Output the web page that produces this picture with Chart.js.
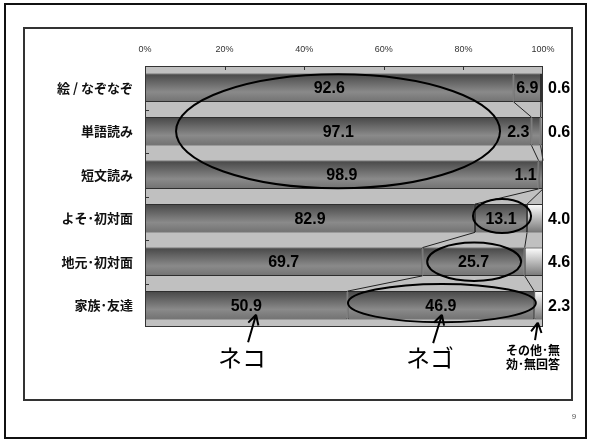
<!DOCTYPE html>
<html>
<head>
<meta charset="utf-8">
<script src="https://cdn.jsdelivr.net/npm/chart.js@4.4.1/dist/chart.umd.min.js"></script>
<style>
  body { margin: 0; background: #fff; }
  canvas { display: block; }
</style>
</head>
<body>
<canvas id="chart" width="591" height="443"></canvas>
<script>
// rows, top to bottom
const categories = ['絵 / なぞなぞ', '単語読み', '短文読み', 'よそ･初対面', '地元･初対面', '家族･友達'];
// ネコ / ネゴ / その他･無効･無回答 (%)
const neko = [92.6, 97.1, 98.9, 82.9, 69.7, 50.9];
const nego = [6.9, 2.3, 1.1, 13.1, 25.7, 46.9];
const other = [0.6, 0.6, 0.0, 4.0, 4.6, 2.3];
const xTicks = [0, 20, 40, 60, 80, 100];

// hand drawn marks on the slide, in data units (x: %, y: row index)
const circles = [
    { x: 48.5, y: 1.0, rx: 40.7, ry: 1.31 },
    { x: 89.7, y: 2.95, rx: 7.3, ry: 0.39 },
    { x: 82.7, y: 4.0, rx: 11.8, ry: 0.44 },
    { x: 74.6, y: 4.95, rx: 23.6, ry: 0.44 }
];
const arrows = [
    { x0: 25.9, y0: 5.85, x1: 27.9, y1: 5.22 },
    { x0: 72.4, y0: 5.87, x1: 74.6, y1: 5.22 },
    { x0: 98.0, y0: 5.80, x1: 98.7, y1: 5.40 }
];
const notes = [
    { text: 'ネコ', x: 24.4, y: 6.22, font: '24px "Noto Sans CJK JP"' },
    { text: 'ネゴ', x: 71.6, y: 6.22, font: '24px "Noto Sans CJK JP"' },
    { text: 'その他･無', x: 97.5, y: 6.03, font: 'bold 12px "Noto Sans CJK JP"' },
    { text: '効･無回答', x: 97.5, y: 6.36, font: 'bold 12px "Noto Sans CJK JP"' }
];

const BAR_PCT = 0.65;
const NUM_FONT = 'bold 16px "Liberation Sans", Arial, sans-serif';

// vertical shading of each bar
function shade(stops) {
    return function (c) {
        const chart = c.chart;
        const ys = chart.scales.y;
        if (!ys || !chart.chartArea) return stops[1][1];
        const yc = ys.getPixelForValue(c.dataIndex);
        const h = (ys.height / categories.length) * BAR_PCT / 2;
        const g = chart.ctx.createLinearGradient(0, yc - h, 0, yc + h);
        stops.forEach(s => g.addColorStop(s[0], s[1]));
        return g;
    };
}
const darkBar = shade([[0, '#474747'], [0.65, '#8a8a8a'], [1, '#727272']]);
const lightBar = shade([[0, '#ffffff'], [1, '#777777']]);

const slide = {
    id: 'slide',
    beforeDraw(chart) {
        const ctx = chart.ctx, a = chart.chartArea;
        ctx.save();
        ctx.fillStyle = '#fff';
        ctx.fillRect(0, 0, chart.width, chart.height);
        ctx.strokeStyle = '#111';
        ctx.lineWidth = 2;
        ctx.strokeRect(5, 4, 581, 434);
        ctx.strokeStyle = '#333';
        ctx.strokeRect(24, 28, 548, 372);
        ctx.fillStyle = '#c0c0c0';
        ctx.fillRect(a.left, a.top, a.right - a.left, a.bottom - a.top);
        ctx.restore();
    },
    afterDatasetsDraw(chart) {
        const ctx = chart.ctx, a = chart.chartArea;
        const xs = chart.scales.x, ys = chart.scales.y;
        const half = (ys.height / categories.length) * BAR_PCT / 2;
        const series = [neko, nego, other];
        ctx.save();

        // series lines between the bars
        ctx.strokeStyle = '#222';
        ctx.lineWidth = 1;
        for (let r = 0; r < categories.length - 1; r++) {
            let c0 = 0, c1 = 0;
            for (let s = 0; s < 2; s++) {
                c0 += series[s][r];
                c1 += series[s][r + 1];
                ctx.beginPath();
                ctx.moveTo(xs.getPixelForValue(Math.min(c0, 100)), ys.getPixelForValue(r) + half);
                ctx.lineTo(xs.getPixelForValue(Math.min(c1, 100)), ys.getPixelForValue(r + 1) - half);
                ctx.stroke();
            }
        }

        // plot frame and inner tick marks
        ctx.strokeStyle = '#333';
        ctx.strokeRect(a.left + 0.5, a.top + 0.5, a.right - a.left - 1, a.bottom - a.top - 1);
        xTicks.slice(1, -1).forEach(v => {
            const px = Math.round(xs.getPixelForValue(v)) + 0.5;
            ctx.beginPath();
            ctx.moveTo(px, a.top);
            ctx.lineTo(px, a.top + 4);
            ctx.stroke();
        });
        for (let r = 0; r < categories.length - 1; r++) {
            const py = Math.round(ys.getPixelForValue(r + 0.5)) + 0.5;
            ctx.beginPath();
            ctx.moveTo(a.left, py);
            ctx.lineTo(a.left + 4, py);
            ctx.stroke();
        }

        // value labels
        ctx.fillStyle = '#000';
        ctx.font = NUM_FONT;
        ctx.textBaseline = 'middle';
        categories.forEach((cat, r) => {
            const yc = ys.getPixelForValue(r) + 1;
            const p0 = xs.getPixelForValue(0);
            const p1 = xs.getPixelForValue(neko[r]);
            const p2 = xs.getPixelForValue(Math.min(neko[r] + nego[r], 100));
            ctx.textAlign = 'center';
            ctx.fillText(neko[r].toFixed(1), (p0 + p1) / 2, yc);
            const t = nego[r].toFixed(1);
            if (p2 - p1 >= ctx.measureText(t).width + 2) {
                ctx.textAlign = 'center';
                ctx.fillText(t, (p1 + p2) / 2, yc);
            } else {
                ctx.textAlign = 'right';
                ctx.fillText(t, p1 - 2, yc);
            }
            if (other[r] > 0) {
                ctx.textAlign = 'left';
                ctx.fillText(other[r].toFixed(1), a.right + 5, yc);
            }
        });

        // circles
        ctx.strokeStyle = '#000';
        ctx.lineWidth = 2;
        const kx = (xs.getPixelForValue(100) - xs.getPixelForValue(0)) / 100;
        const ky = ys.getPixelForValue(1) - ys.getPixelForValue(0);
        circles.forEach(e => {
            ctx.beginPath();
            ctx.ellipse(xs.getPixelForValue(e.x), ys.getPixelForValue(e.y), e.rx * kx, e.ry * ky, 0, 0, Math.PI * 2);
            ctx.stroke();
        });

        // arrows
        arrows.forEach(ar => {
            const x0 = xs.getPixelForValue(ar.x0), y0 = ys.getPixelForValue(ar.y0);
            const x1 = xs.getPixelForValue(ar.x1), y1 = ys.getPixelForValue(ar.y1);
            const ang = Math.atan2(y1 - y0, x1 - x0);
            ctx.beginPath();
            ctx.moveTo(x0, y0);
            ctx.lineTo(x1, y1);
            [0.5, -0.5].forEach(d => {
                ctx.moveTo(x1, y1);
                ctx.lineTo(x1 - 11 * Math.cos(ang + d), y1 - 11 * Math.sin(ang + d));
            });
            ctx.stroke();
        });

        // notes under the chart
        ctx.textAlign = 'center';
        notes.forEach(n => {
            ctx.font = n.font;
            ctx.fillText(n.text, xs.getPixelForValue(n.x), ys.getPixelForValue(n.y));
        });

        // page number
        ctx.fillStyle = '#555';
        ctx.font = '8px "Liberation Sans", Arial, sans-serif';
        ctx.fillText('9', 574, 417);
        ctx.restore();
    }
};

new Chart(document.getElementById('chart'), {
    type: 'bar',
    data: {
        labels: categories,
        datasets: [
            { label: 'ネコ', data: neko, backgroundColor: darkBar },
            { label: 'ネゴ', data: nego, backgroundColor: darkBar },
            { label: 'その他･無効･無回答', data: other, backgroundColor: lightBar }
        ]
    },
    options: {
        indexAxis: 'y',
        responsive: false,
        animation: false,
        datasets: {
            bar: {
                categoryPercentage: 1,
                barPercentage: BAR_PCT,
                borderColor: '#2e2e2e',
                borderWidth: 1,
                borderSkipped: false
            }
        },
        layout: { padding: { left: 0, top: 0, right: 48, bottom: 116 } },
        scales: {
            x: {
                position: 'top',
                stacked: true,
                min: 0,
                max: 100,
                afterBuildTicks: s => { s.ticks = xTicks.map(v => ({ value: v })); },
                afterFit: s => { s.height = 66; },
                ticks: {
                    callback: v => v + '%',
                    font: { family: '"Liberation Sans", Arial, sans-serif', size: 9 },
                    color: '#333',
                    padding: 11,
                    maxRotation: 0
                },
                grid: { display: false, drawTicks: false },
                border: { display: false }
            },
            y: {
                stacked: true,
                afterFit: s => { s.width = 145; },
                ticks: {
                    font: { family: '"Noto Sans CJK JP"', size: 13, weight: 'bold' },
                    color: '#111',
                    padding: 12
                },
                grid: { display: false, drawTicks: false },
                border: { display: false }
            }
        },
        plugins: {
            legend: { display: false },
            tooltip: { enabled: false }
        }
    },
    plugins: [slide]
});
</script>
</body>
</html>
